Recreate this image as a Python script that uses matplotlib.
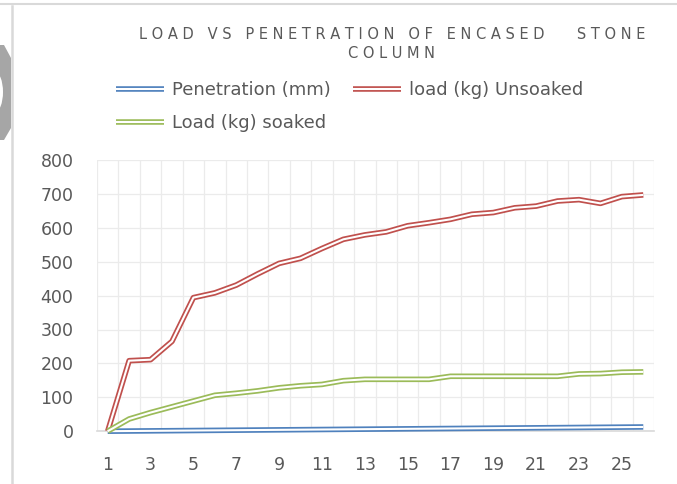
import numpy as np
import matplotlib.pyplot as plt
from matplotlib.lines import Line2D
from matplotlib.patches import Polygon, Ellipse

# readings
reading = list(range(1, 27))
penetration = [0, 0.5, 1.0, 1.5, 2.0, 2.5, 3.0, 3.5, 4.0, 4.5, 5.0, 5.5, 6.0,
               6.5, 7.0, 7.5, 8.0, 8.5, 9.0, 9.5, 10.0, 10.5, 11.0, 11.5, 12.0, 12.5]
load_unsoaked = [0, 208, 211, 265, 394, 408, 431, 464, 495, 510, 539, 566, 579,
                 588, 606, 615, 625, 640, 645, 659, 664, 679, 683, 672, 692, 697]
load_soaked = [0, 36, 55, 72, 89, 106, 112, 119, 128, 134, 138, 149, 153,
               153, 153, 153, 162, 162, 162, 162, 162, 162, 169, 170, 174, 175]

labels = ["Penetration (mm)", "load (kg) Unsoaked", "Load (kg) soaked"]
colors = ["#4f81bd", "#c0504d", "#9bbb59"]
xtick_labels = [str(v) for v in range(1, 27, 2)]

txt = "#595959"
plt.rcParams['font.family'] = ['DejaVu Sans']

W, H = 677, 484
fig = plt.figure(figsize=(W / 100, H / 100), dpi=100)
ax = fig.add_axes([97 / W, 1 - 431.2 / H, (654 - 97) / W, (431.2 - 160) / H])

outer_lw, inner_lw = 4.0, 1.5
handles = []
for i, (ys, c) in enumerate(zip([penetration, load_unsoaked, load_soaked], colors)):
    ax.plot(reading, ys, color=c, lw=outer_lw, zorder=3 + 2 * i, clip_on=False,
            solid_capstyle='butt')
    ax.plot(reading, ys, color='white', lw=inner_lw, zorder=4 + 2 * i, clip_on=False,
            solid_capstyle='butt')
    handles.append((Line2D([], [], color=c, lw=outer_lw, solid_capstyle='butt'),
                    Line2D([], [], color='white', lw=inner_lw, solid_capstyle='butt')))

ax.set_xlim(0.5, 26.5)
ax.set_ylim(0, 800)
ax.set_yticks(range(0, 801, 100))
ax.set_xticks(range(1, 27, 2))
ax.set_xticklabels(xtick_labels)
ax.set_xticks(np.arange(0.5, 27, 1), minor=True)
ax.grid(axis='y', color='#ebebeb', lw=0.9)
ax.grid(axis='x', which='minor', color='#ebebeb', lw=0.9)
ax.set_axisbelow(True)
for s in ['left', 'right', 'top']:
    ax.spines[s].set_visible(False)
ax.spines['bottom'].set_color('#d9d9d9')
ax.spines['bottom'].set_linewidth(1.2)
ax.tick_params(axis='both', which='both', length=0, labelcolor=txt, labelsize=12.5)
ax.tick_params(axis='y', pad=17)
ax.tick_params(axis='x', pad=18)

title = "L O A D   V S   P E N E T R A T I O N   O F   E N C A S E D       S T O N E\nC O L U M N"
fig.text(392 / W, 1 - 27 / H, title, ha='center', va='top', color=txt,
         fontsize=10.5, linespacing=1.35, multialignment='center')

# legend: first row blue and red, second row green
order = [0, 2, 1]
fig.legend([handles[k] for k in order], [labels[k] for k in order], ncol=2,
           loc='upper left', bbox_to_anchor=(116 / W, 1 - 81 / H), frameon=False,
           fontsize=13, labelcolor=txt, handlelength=2.65, handletextpad=0.45,
           columnspacing=1.25, labelspacing=0.85, borderpad=0, borderaxespad=0)

# page edges around the chart
fig.add_artist(Line2D([0, 1], [1 - 4 / H, 1 - 4 / H], color='#d9d9d9', lw=1.5,
                      transform=fig.transFigure))
fig.add_artist(Line2D([12 / W, 12 / W], [0, 1 - 6 / H], color='#d9d9d9', lw=1.8,
                      transform=fig.transFigure))
px = [(0, 45), (4, 45), (11, 58), (11, 128), (4, 140), (0, 140)]
fig.add_artist(Polygon([(a / W, 1 - b / H) for a, b in px], closed=True,
                       facecolor='#a6a6a6', edgecolor='none', transform=fig.transFigure))
fig.add_artist(Ellipse((-5 / W, 1 - 92 / H), 16 / W, 40 / H, facecolor='white',
                       edgecolor='none', transform=fig.transFigure))

fig.savefig("out.png", dpi=100)
